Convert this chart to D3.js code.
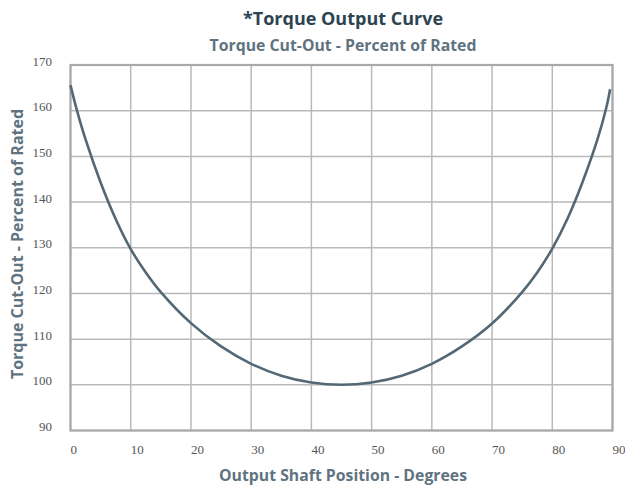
<!DOCTYPE html>
<html>
<head>
<meta charset="utf-8">
<script src="https://cdn.jsdelivr.net/npm/d3@7"></script>
<style>
  html, body { margin: 0; padding: 0; background: #fff; }
  svg { display: block; }
</style>
</head>
<body>
<svg id="chart" width="625" height="486"></svg>
<script>
// ---- data ----
const degrees = [0, 1, 2.5, 5, 7.5, 10, 12.5, 15, 20, 25, 30, 35, 40, 45, 50, 55, 60, 65, 70, 75, 77.5, 80, 82.5, 85, 87.5, 89, 89.6];
const torque  = [165.6, 160.4, 153.7, 144.3, 136.3, 129.7, 124.6, 120.3, 113.5, 108.4, 104.6, 102.0, 100.5, 100, 100.5, 102.0, 104.6, 108.4, 113.4, 120.3, 124.6, 129.8, 136.3, 144.3, 153.7, 160.8, 164.7];
const xTicks = [0, 10, 20, 30, 40, 50, 60, 70, 80, 90];
const yTicks = [90, 100, 110, 120, 130, 140, 150, 160, 170];
const titleText = "*Torque Output Curve";
const subtitleText = "Torque Cut-Out - Percent of Rated";
const xTitle = "Output Shaft Position - Degrees";
const yTitle = "Torque Cut-Out - Percent of Rated";

const svg = d3.select("#chart");
const plot = { left: 70.5, right: 612.5, top: 65, bottom: 430.5 };

const x = d3.scaleLinear().domain([0, 90]).range([plot.left, plot.right]);
const y = d3.scaleLinear().domain([90, 170]).range([plot.bottom, plot.top]);

// gridlines
svg.append("g").selectAll("line.v").data(xTicks).join("line")
  .attr("x1", d => x(d)).attr("x2", d => x(d))
  .attr("y1", plot.top).attr("y2", plot.bottom)
  .attr("stroke", "#b9b9b9").attr("stroke-width", 1.5);
svg.append("g").selectAll("line.h").data(yTicks).join("line")
  .attr("x1", plot.left).attr("x2", plot.right)
  .attr("y1", d => y(d)).attr("y2", d => y(d))
  .attr("stroke", "#b9b9b9").attr("stroke-width", 1.5);

// border
svg.append("rect")
  .attr("x", plot.left).attr("y", plot.top)
  .attr("width", plot.right - plot.left).attr("height", plot.bottom - plot.top)
  .attr("fill", "none").attr("stroke", "#a9a9a9").attr("stroke-width", 2.2);

// tick labels
svg.append("g").selectAll("text").data(xTicks).join("text")
  .attr("x", d => x(d)).attr("y", 453.5)
  .attr("text-anchor", "start")
  .attr("font-family", "'Liberation Serif', 'Times New Roman', serif")
  .attr("font-size", 13).attr("fill", "#555")
  .text(d => d);
svg.append("g").selectAll("text").data(yTicks).join("text")
  .attr("x", 52).attr("y", d => y(d) + 0.5)
  .attr("text-anchor", "end")
  .attr("font-family", "'Liberation Serif', 'Times New Roman', serif")
  .attr("font-size", 13).attr("fill", "#555")
  .text(d => d);

// curve
const pts = degrees.map((d, i) => [d, torque[i]]);
svg.append("path")
  .datum(pts)
  .attr("fill", "none")
  .attr("stroke", "#536874")
  .attr("stroke-width", 2.6)
  .attr("d", d3.line().x(d => x(d[0])).y(d => y(d[1])).curve(d3.curveCatmullRom.alpha(0.5)));

// titles
const sans = "'Open Sans', 'Noto Sans', sans-serif";
svg.append("text").attr("x", 343).attr("y", 25)
  .attr("text-anchor", "middle").attr("font-family", sans).attr("font-weight", "bold")
  .attr("font-size", 18).attr("fill", "#2c4451").text(titleText);
svg.append("text").attr("x", 343).attr("y", 51)
  .attr("text-anchor", "middle").attr("font-family", sans).attr("font-weight", "bold")
  .attr("font-size", 15.8).attr("fill", "#5f7380").text(subtitleText);
svg.append("text").attr("x", 343).attr("y", 481)
  .attr("text-anchor", "middle").attr("font-family", sans).attr("font-weight", "bold")
  .attr("font-size", 15.8).attr("fill", "#5f7380").text(xTitle);
svg.append("text")
  .attr("transform", "translate(23,244) rotate(-90)")
  .attr("text-anchor", "middle").attr("font-family", sans).attr("font-weight", "bold")
  .attr("font-size", 16).attr("fill", "#5f7380").text(yTitle);
</script>
</body>
</html>
